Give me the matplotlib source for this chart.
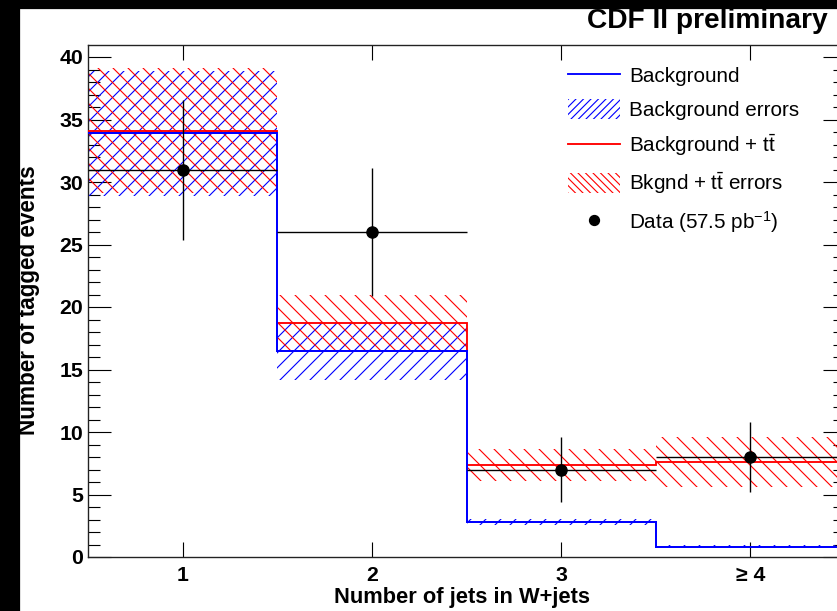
import matplotlib
matplotlib.use("Agg")
import matplotlib.pyplot as plt
from matplotlib.lines import Line2D
from matplotlib.patches import Patch, Rectangle
import numpy as np

# values
jet_bins = [1, 2, 3, 4]
bin_edges = [0.5, 1.5, 2.5, 3.5, 4.5]
tick_labels = ["1", "2", "3", "≥ 4"]

bkg = [33.9, 16.45, 2.83, 0.83]
bkg_err = [5.0, 2.25, 0.25, 0.1]
bkg_tt = [34.1, 18.7, 7.36, 7.6]
bkg_tt_err = [5.0, 2.25, 1.3, 2.0]

data = [31, 26, 7, 8]
data_err = [5.6, 5.1, 2.6, 2.8]

plt.rcParams['font.family'] = ['Liberation Sans', 'DejaVu Sans']
plt.rcParams['mathtext.fontset'] = 'custom'
plt.rcParams['mathtext.rm'] = 'Liberation Sans'
plt.rcParams['mathtext.it'] = 'Liberation Sans:italic'
plt.rcParams['mathtext.bf'] = 'Liberation Sans:bold'
plt.rcParams['hatch.linewidth'] = 0.9

DPI = 90
fig = plt.figure(figsize=(837 / DPI, 611 / DPI), dpi=DPI, facecolor='white')
ax = fig.add_axes([88 / 837, 1 - 557 / 611, 757 / 837, 512 / 611])

# error bands
ax.bar(jet_bins, [2 * e for e in bkg_err], bottom=[v - e for v, e in zip(bkg, bkg_err)],
       width=1.0, fill=False, hatch='//', edgecolor='blue', linewidth=0, zorder=2)
ax.bar(jet_bins, [2 * e for e in bkg_tt_err], bottom=[v - e for v, e in zip(bkg_tt, bkg_tt_err)],
       width=1.0, fill=False, hatch='\\\\', edgecolor='red', linewidth=0, zorder=2)

# histograms
ax.stairs(bkg_tt, bin_edges, baseline=None, color='red', linewidth=1.5, zorder=3)
ax.stairs(bkg, bin_edges, baseline=None, color='blue', linewidth=1.6, zorder=4)

# data
ax.errorbar(jet_bins, data, yerr=data_err, xerr=0.5, fmt='o', color='black',
            markersize=9, elinewidth=1.1, capsize=0, zorder=5)

ax.set_xlim(0.5, 4.5)
ax.set_ylim(0, 40.96)
ax.set_xticks(jet_bins)
ax.set_xticklabels(tick_labels)
ax.set_yticks(np.arange(0, 41, 5))
ax.set_yticks(np.arange(0, 41, 1), minor=True)

ax.tick_params(axis='y', which='major', direction='in', length=18, width=0.9,
               left=True, right=True, pad=4, labelsize=17)
ax.tick_params(axis='y', which='minor', direction='in', length=9.5, width=0.9,
               left=True, right=True)
ax.tick_params(axis='x', which='major', direction='in', length=12, width=0.9,
               top=True, bottom=True, pad=7, labelsize=17)
for lab in ax.get_xticklabels() + ax.get_yticklabels():
    lab.set_fontweight('bold')
for sp in ax.spines.values():
    sp.set_linewidth(1.1)
    sp.set_color('#222222')

ax.set_xlabel("Number of jets in W+jets", fontsize=17.5, fontweight='bold')
ax.xaxis.set_label_coords(0.494, -0.058)
ax.set_ylabel("Number of tagged events", fontsize=18, fontweight='bold')
ax.yaxis.set_label_coords(-0.063, 0.502)

handles = [
    Line2D([], [], color='blue', linewidth=1.5),
    Patch(facecolor='none', edgecolor='blue', hatch='////', linewidth=0),
    Line2D([], [], color='red', linewidth=1.5),
    Patch(facecolor='none', edgecolor='red', hatch='\\\\\\\\', linewidth=0),
    Line2D([], [], color='black', marker='o', markersize=8, linestyle='none'),
]
labels = [
    "Background",
    "Background errors",
    r"Background + $\mathrm{t}\bar{\mathrm{t}}$",
    r"Bkgnd + $\mathrm{t}\bar{\mathrm{t}}$ errors",
    r"Data (57.5 pb$^{-1}$)",
]
ax.legend(handles, labels, loc='upper left', bbox_to_anchor=(0.634, 0.96),
          frameon=False, fontsize=16.5, handlelength=2.5, handleheight=1.1,
          handletextpad=0.45, labelspacing=0.6, borderpad=0, borderaxespad=0)

fig.text(828 / 837, 1 - 28 / 611, "CDF II preliminary", ha='right', va='baseline',
         fontsize=22.5, fontweight='bold')

# black frame edges of the original screenshot
fig.add_artist(Rectangle((0, 0), 19 / 837, 1, transform=fig.transFigure,
                         color='black', zorder=0))
fig.add_artist(Rectangle((0, 1 - 8 / 611), 1, 8 / 611, transform=fig.transFigure,
                         color='black', zorder=0))

fig.savefig("out.png", dpi=DPI, facecolor='white')
